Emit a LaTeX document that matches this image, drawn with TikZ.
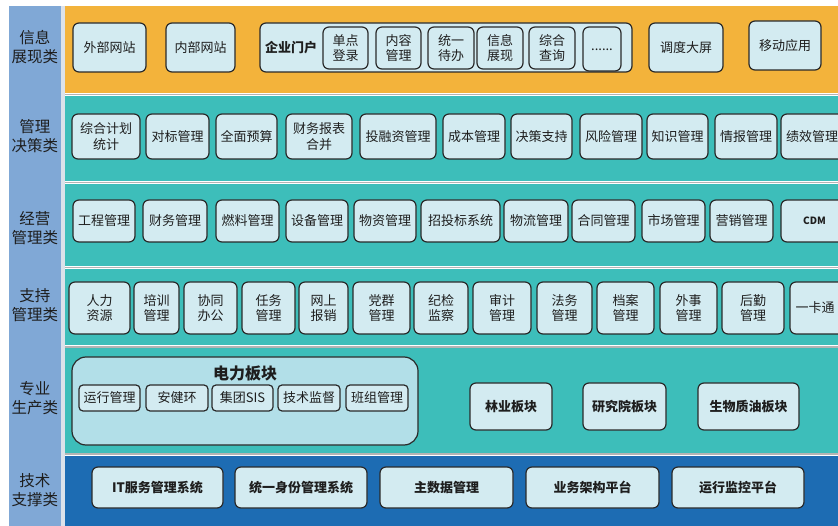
\documentclass[tikz,border=0pt]{standalone}
\usepackage{fontspec}
\setmainfont{Noto Sans CJK SC}
\definecolor{orangeband}{HTML}{F3B33B}
\definecolor{tealband}{HTML}{3DBEBA}
\definecolor{blueband}{HTML}{1D6CB3}
\definecolor{leftcol}{HTML}{80A8D6}
\definecolor{leftgap}{HTML}{DCE2EA}
\definecolor{boxfill}{HTML}{D3EBF1}
\definecolor{bigfill}{HTML}{B2DFE8}
\definecolor{edge}{HTML}{2A2A2A}
\definecolor{sepgray}{HTML}{B4B4B4}
\definecolor{txt}{HTML}{1E1E1E}
\tikzset{
  box/.style={draw=edge, line width=1.2pt, fill=boxfill, rounded corners=6pt,
    inner sep=0pt, align=center, text=txt, font=\fontsize{13}{15.5}\selectfont},
  boldbox/.style={box, font=\fontsize{13}{15.5}\selectfont\bfseries},
  bigbox/.style={box, fill=bigfill, rounded corners=14pt},
  catlabel/.style={align=center, text=txt, font=\fontsize{15.5}{19}\selectfont},
  sepline/.style={draw=sepgray, line width=1.2pt},
}
\newcommand\bx[7][]{%
  \pgfmathsetmacro\bxcx{(#3+#4)/2}%
  \pgfmathsetmacro\bxcy{(#5+#6)/2}%
  \pgfmathsetmacro\bxw{#4-#3}%
  \pgfmathsetmacro\bxh{#6-#5}%
  \node[box,minimum width=\bxw pt,minimum height=\bxh pt,#1] (#2) at (\bxcx,\bxcy) {#7};}
\begin{document}
\begin{tikzpicture}[x=1pt,y=-1pt]
\useasboundingbox (0,0) rectangle (838,526);
\fill[white] (0,0) rectangle (838,526);
% left column
\fill[leftcol] (9,6) rectangle (61,526);
\fill[leftgap] (61,6) rectangle (65,526);
% bands
\fill[orangeband] (65,6) rectangle (838,93);
\fill[tealband] (65,96) rectangle (838,181);
\fill[tealband] (65,184) rectangle (838,266);
\fill[tealband] (65,269) rectangle (838,345.5);
\fill[tealband] (65,348.5) rectangle (838,452.5);
\fill[blueband] (65,455.5) rectangle (838,526);
\coordinate (s1a) at (65,94.5); \coordinate (s1b) at (838,94.5);
\coordinate (s2a) at (65,182.5); \coordinate (s2b) at (838,182.5);
\coordinate (s3a) at (65,267.5); \coordinate (s3b) at (838,267.5);
\coordinate (s4a) at (65,347); \coordinate (s4b) at (838,347);
\coordinate (s5a) at (65,454); \coordinate (s5b) at (838,454);
\draw[sepline] (s1a) -- (s1b);
\draw[sepline] (s2a) -- (s2b);
\draw[sepline] (s3a) -- (s3b);
\draw[sepline] (s4a) -- (s4b);
\draw[sepline] (s5a) -- (s5b);
% category labels
\node[catlabel] (c1) at (35,47) {信息\\展现类};
\node[catlabel] (c2) at (35,136) {管理\\决策类};
\node[catlabel] (c3) at (35,228) {经营\\管理类};
\node[catlabel] (c4) at (35,305) {支持\\管理类};
\node[catlabel] (c5) at (35,398) {专业\\生产类};
\node[catlabel] (c6) at (35,490) {技术\\支撑类};
% band 1
\bx{wbwz}{73}{146}{23}{72}{外部网站}
\bx{nbwz}{166}{235}{23}{72}{内部网站}
\bx{qymh}{260}{632}{23}{72}{}
\node[text=txt,font=\fontsize{13}{15.5}\selectfont\bfseries] (qymht) at (291,47.5) {企业门户};
\bx{dddl}{323}{368}{27}{69}{单点\\登录}
\bx{nrgl}{376}{421}{27}{69}{内容\\管理}
\bx{tydb}{428}{474}{27}{69}{统一\\待办}
\bx{xxzx}{477}{523}{27}{69}{信息\\展现}
\bx{zhcx}{529}{575}{27}{69}{综合\\查询}
\bx{more}{583}{621}{27}{71}{\raisebox{-3pt}{......}}
\bx{ddp}{649}{723}{23}{72}{调度大屏}
\bx{ydyy}{749}{821}{21}{70}{移动应用}
% band 2
\bx{zhjh}{72}{140}{114}{159}{综合计划\\统计}
\bx{dbgl}{146}{209}{114}{159}{对标管理}
\bx{qmys}{216}{277}{114}{159}{全面预算}
\bx{cwbb}{286}{352}{114}{159}{财务报表\\合并}
\bx{trzgl}{360}{436}{114}{159}{投融资管理}
\bx{cbgl}{443}{505}{114}{159}{成本管理}
\bx{jczc}{511}{572}{114}{159}{决策支持}
\bx{fxgl}{580}{642}{114}{159}{风险管理}
\bx{zsgl}{647}{708}{114}{159}{知识管理}
\bx{qbgl}{715}{777}{114}{159}{情报管理}
\bx[text width=64pt]{jxgl}{781}{845}{114}{159}{\hspace*{-2pt}绩效管理}
% band 3
\bx{gcgl}{73}{135}{200}{242}{工程管理}
\bx{cwgl}{143}{207}{200}{242}{财务管理}
\bx{rlgl}{216}{279}{200}{242}{燃料管理}
\bx{sbgl}{286}{348}{200}{242}{设备管理}
\bx{wzgl}{354}{416}{200}{242}{物资管理}
\bx{ztbxt}{421}{500}{200}{242}{招投标系统}
\bx{wlgl}{504}{568}{200}{242}{物流管理}
\bx{htgl}{572}{635}{200}{242}{合同管理}
\bx{scgl}{642}{705}{200}{242}{市场管理}
\bx{yxgl}{710}{773}{200}{242}{营销管理}
\bx[font=\fontsize{10}{12}\selectfont\bfseries]{cdm}{781}{848}{200}{242}{CDM}
% band 4
\bx{rlzy}{69}{130}{282}{334}{人力\\资源}
\bx{pxgl}{134}{179}{282}{334}{培训\\管理}
\bx{xtbg}{184}{237}{282}{334}{协同\\办公}
\bx{rwgl}{242}{295}{282}{334}{任务\\管理}
\bx{wsbx}{299}{348}{282}{334}{网上\\报销}
\bx{dqgl}{353}{410}{282}{334}{党群\\管理}
\bx{jjjc}{414}{468}{282}{334}{纪检\\监察}
\bx{sjgl}{473}{531}{282}{334}{审计\\管理}
\bx{fwgl}{537}{592}{282}{334}{法务\\管理}
\bx{dagl}{597}{654}{282}{334}{档案\\管理}
\bx{wsgl}{660}{717}{282}{334}{外事\\管理}
\bx{hqgl}{722}{784}{282}{334}{后勤\\管理}
\bx{ykt}{790}{860}{282}{334}{\hspace*{-20pt}一卡通}
% band 5
\bx[bigbox]{dlbk}{72}{418}{357}{445}{}
\node[text=txt,font=\fontsize{16}{19}\selectfont\bfseries] (dlbkt) at (245,373) {电力板块};
\bx[rounded corners=4pt]{yxgl5}{79}{140}{385}{411}{运行管理}
\bx[rounded corners=4pt]{ajh}{146}{208}{385}{411}{安健环}
\bx[rounded corners=4pt]{sis}{212}{273}{385}{411}{集团SIS}
\bx[rounded corners=4pt]{jsjd}{278}{340}{385}{411}{技术监督}
\bx[rounded corners=4pt]{bzgl}{346}{408}{385}{411}{班组管理}
\bx[boldbox]{lybk}{470}{552}{383}{430}{林业板块}
\bx[boldbox]{yjybk}{583}{666}{383}{430}{研究院板块}
\bx[boldbox]{swzybk}{698}{799}{383}{430}{生物质油板块}
% band 6
\bx[boldbox]{itfw}{92}{223}{467}{508}{IT服务管理系统}
\bx[boldbox]{tysf}{235}{367}{467}{508}{统一身份管理系统}
\bx[boldbox]{zsj}{380}{513}{467}{508}{主数据管理}
\bx[boldbox]{ywjg}{526}{659}{467}{508}{业务架构平台}
\bx[boldbox]{yxjk}{672}{804}{467}{508}{运行监控平台}
\end{tikzpicture}
\end{document}
